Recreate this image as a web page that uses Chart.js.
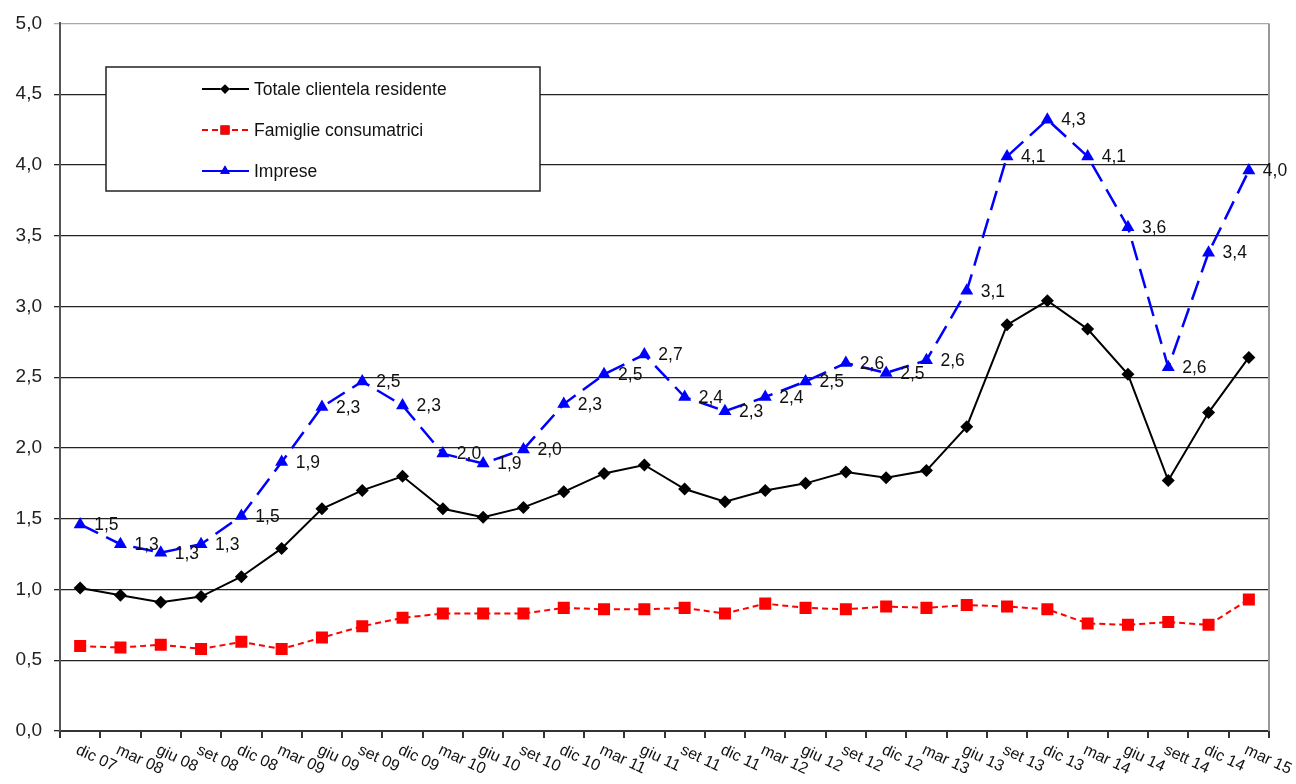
<!DOCTYPE html>
<html>
<head>
<meta charset="utf-8">
<script src="https://cdn.jsdelivr.net/npm/chart.js@4"></script>
<style>
  body { margin: 0; background: #fff; }
  canvas { display: block; }
</style>
</head>
<body>
<canvas id="myChart" width="1296" height="784"></canvas>
<script>
const ctx = document.getElementById('myChart');

const mesi = ['dic 07','mar 08','giu 08','set 08','dic 08','mar 09','giu 09','set 09','dic 09','mar 10',
  'giu 10','set 10','dic 10','mar 11','giu 11','set 11','dic 11','mar 12','giu 12','set 12',
  'dic 12','mar 13','giu 13','set 13','dic 13','mar 14','giu 14','sett 14','dic 14','mar 15'];

const totale = [1.01,0.96,0.91,0.95,1.09,1.29,1.57,1.70,1.80,1.57,1.51,1.58,1.69,1.82,1.88,
  1.71,1.62,1.70,1.75,1.83,1.79,1.84,2.15,2.87,3.04,2.84,2.52,1.77,2.25,2.64];
const famiglie = [0.60,0.59,0.61,0.58,0.63,0.58,0.66,0.74,0.80,0.83,0.83,0.83,0.87,0.86,0.86,
  0.87,0.83,0.90,0.87,0.86,0.88,0.87,0.89,0.88,0.86,0.76,0.75,0.77,0.75,0.93];
const imprese = [1.46,1.32,1.26,1.32,1.52,1.90,2.29,2.47,2.30,1.96,1.89,1.99,2.31,2.52,2.66,
  2.36,2.26,2.36,2.47,2.60,2.53,2.62,3.11,4.06,4.32,4.06,3.56,2.57,3.38,3.96];

const font = '"Liberation Sans", Arial, sans-serif';

function virgola(v) {
  return v.toFixed(1).replace('.', ',');
}

// etichette valori, asse x ruotato, legenda nel riquadro
const extras = {
  id: 'extras',
  beforeDatasetsDraw(chart) {
    const c = chart.ctx, a = chart.chartArea;
    c.save();
    c.strokeStyle = '#999';
    c.lineWidth = 2;
    c.beginPath();
    c.moveTo(a.right, a.top);
    c.lineTo(a.right, a.bottom);
    c.stroke();
    c.restore();
  },
  afterDatasetsDraw(chart) {
    const c = chart.ctx;
    c.save();
    c.font = '17.5px ' + font;
    c.fillStyle = '#111';
    c.textAlign = 'left';
    c.textBaseline = 'middle';
    chart.getDatasetMeta(2).data.forEach((p, i) => {
      c.fillText(virgola(imprese[i]), p.x + 14, p.y + 1);
    });

    // legenda
    const bx = 106, by = 67, bw = 434, bh = 124;
    c.fillStyle = '#fff';
    c.fillRect(bx, by, bw, bh);
    c.strokeStyle = '#222';
    c.lineWidth = 1.5;
    c.strokeRect(bx, by, bw, bh);
    const rows = [89, 130, 171];
    chart.data.datasets.forEach((ds, i) => {
      const y = rows[i];
      c.strokeStyle = ds.borderColor;
      c.lineWidth = 2;
      c.setLineDash(i === 1 ? [6, 4] : []);
      c.beginPath();
      c.moveTo(202, y);
      c.lineTo(249, y);
      c.stroke();
      c.setLineDash([]);
      Chart.helpers.drawPoint(c, {
        pointStyle: ds.pointStyle, radius: ds.pointRadius * 0.75,
        borderWidth: 0
      }, 225, y);
      c.fillStyle = ds.borderColor;
      c.fill();
      c.fillStyle = '#111';
      c.font = '17.5px ' + font;
      c.textBaseline = 'middle';
      c.fillText(ds.label, 254, y + 1);
    });
    c.restore();
  },
  afterDraw(chart) {
    const c = chart.ctx, xs = chart.scales.x;
    c.save();
    c.font = '16px ' + font;
    c.fillStyle = '#111';
    c.textAlign = 'left';
    c.textBaseline = 'top';
    mesi.forEach((m, i) => {
      c.save();
      c.translate(xs.getPixelForValue(i) + 0, 742);
      c.rotate(25 * Math.PI / 180);
      c.fillText(m, 0, 0);
      c.restore();
    });
    c.restore();
  }
};

const myChart = new Chart(ctx, {
  type: 'line',
  plugins: [extras],
  data: {
    labels: mesi,
    datasets: [{
      label: 'Totale clientela residente',
      data: totale,
      borderColor: '#000000',
      backgroundColor: '#000000',
      borderWidth: 2,
      pointStyle: 'rectRot',
      pointRadius: 6.5,
      pointBorderWidth: 0
    },
    {
      label: 'Famiglie consumatrici',
      data: famiglie,
      borderColor: '#ff0000',
      backgroundColor: '#ff0000',
      borderWidth: 2,
      borderDash: [6, 4],
      pointStyle: 'rect',
      pointRadius: 8.5,
      pointBorderWidth: 0
    },
    {
      label: 'Imprese',
      data: imprese,
      borderColor: '#0000ff',
      backgroundColor: '#0000ff',
      borderWidth: 2.5,
      borderDash: [20, 9],
      pointStyle: 'triangle',
      pointRadius: 7.5,
      pointBorderWidth: 0
    }]
  },
  options: {
    responsive: false,
    animation: false,
    layout: { padding: { top: 20, right: 27, left: 0, bottom: 0 } },
    plugins: {
      legend: { display: false },
      tooltip: { enabled: false }
    },
    scales: {
      x: {
        offset: true,
        afterFit: (s) => { s.height = 53; },
        ticks: { display: false },
        grid: {
          offset: true,
          drawOnChartArea: false,
          drawTicks: true,
          tickLength: 7,
          color: '#333',
          lineWidth: 2
        },
        border: { color: '#333', width: 2 }
      },
      y: {
        min: 0,
        max: 5,
        afterFit: (s) => { s.width = 60; },
        ticks: {
          stepSize: 0.5,
          padding: 12,
          color: '#222',
          font: { family: font, size: 19 },
          callback: (v) => virgola(v)
        },
        grid: {
          tickLength: 6,
          color: (c) => c.tick && c.tick.value === 5 ? '#aaa' : '#222',
          lineWidth: 1.3
        },
        border: { color: '#555', width: 2 }
      }
    }
  }
});
</script>
</body>
</html>
